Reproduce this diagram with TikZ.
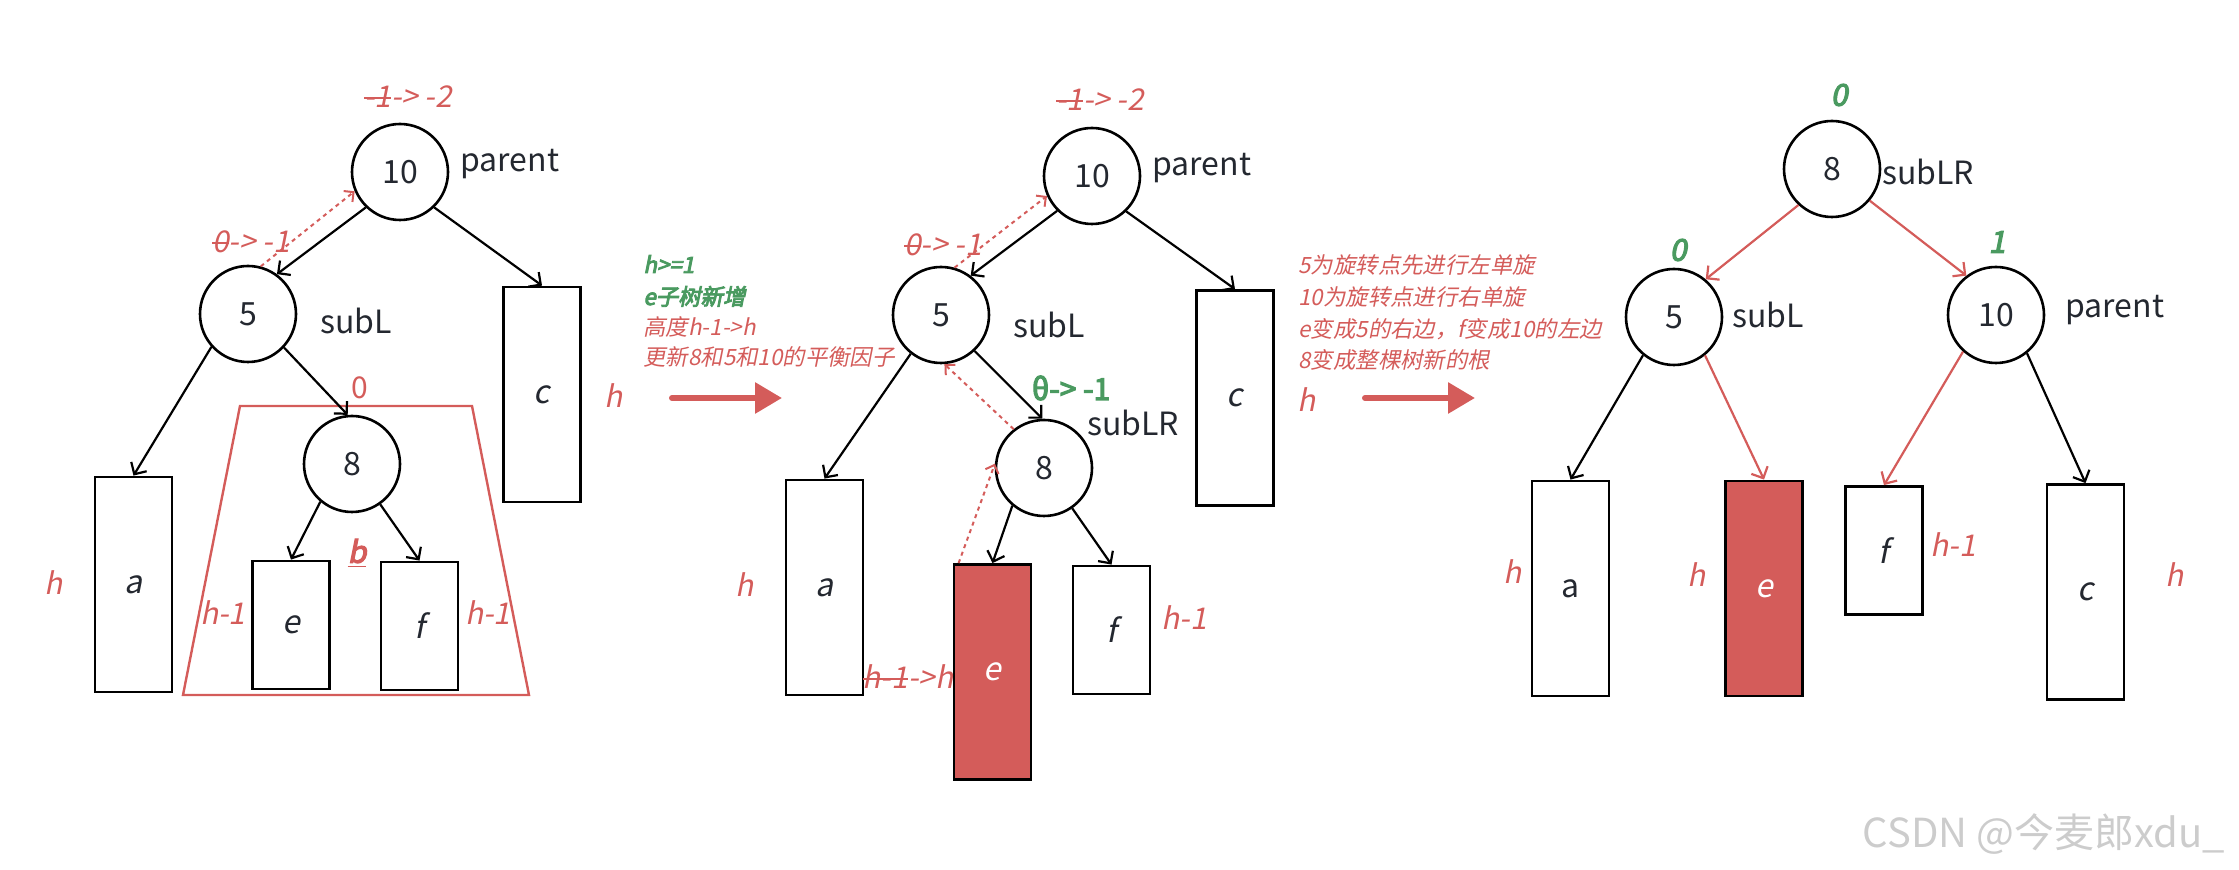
\documentclass[tikz,border=0pt]{standalone}
\usepackage{fontspec}
\setmainfont{Noto Sans CJK SC}[AutoFakeSlant=0.2, AutoFakeBold=4]
\usetikzlibrary{arrows.meta}
\definecolor{avlred}{RGB}{212,92,90}
\definecolor{avlgreen}{RGB}{74,154,96}
\definecolor{ink}{RGB}{36,40,48}
\newcommand\strikeout[1]{\setbox0\hbox{#1}\rlap{\raisebox{0.3em}{\rule{\wd0}{0.06em}}}\box0}

\tikzset{
  treenode/.style={circle, draw=black, line width=1.3pt, minimum size=48pt, inner sep=0pt,
    text=ink, font=\fontsize{16}{19}\selectfont},
  subtree/.style={draw=black, line width=1.4pt, minimum width=38.5pt, inner sep=0pt,
    text=ink, font=\fontsize{16}{19}\selectfont\itshape},
  newtree/.style={subtree, fill=avlred, text=white},
  link/.style={-{Straight Barb[length=4.5pt,width=9pt]}, line width=1.1pt},
  redlink/.style={link, draw=avlred},
  update/.style={-{Straight Barb[length=3.5pt,width=7pt]}, draw=avlred, line width=1pt,
    dash pattern=on 2pt off 2pt},
  bigarrow/.style={-{Triangle[length=13.5pt,width=15pt]}, draw=avlred, line width=3pt, line cap=round},
  role/.style={text=ink, font=\fontsize{16}{19}\selectfont, inner sep=0pt},
  factor/.style={text=avlred, font=\fontsize{15}{18}\selectfont\itshape, inner sep=0pt},
  newfactor/.style={text=avlgreen, font=\fontsize{15}{18}\selectfont\bfseries\itshape, inner sep=0pt},
  hlabel/.style={text=avlred, font=\fontsize{15}{18}\selectfont\itshape, inner sep=0pt},
  note/.style={anchor=base west, text=avlred, font=\fontsize{11.2}{14}\selectfont\itshape, inner sep=0pt},
}

\begin{document}
\begin{tikzpicture}[x=0.5pt, y=-0.5pt]
  \def\hh{107.5pt}
  \def\hs{64pt}
  \useasboundingbox (0,0) rectangle (2239,870);

  % before insertion
  \node[treenode] (L10) at (400,172) {10};
  \node[role, anchor=west] (L10r) at (460,164) {parent};
  \node[factor] (L10f) at (408,97) {\strikeout{-1} -> -2};
  \node[treenode] (L5) at (248,314) {5};
  \node[role, anchor=west] (L5r) at (320,321) {subL};
  \node[factor] (L5f) at (251,242) {\strikeout{0} -> -1};
  \node[treenode] (L8) at (352,464) {8};
  \node[factor, font=\fontsize{15}{18}\selectfont] (L8f) at (360,388) {0};

  \node[subtree, minimum height=\hh] (La) at (133.5,584.5) {a};
  \node[subtree, minimum height=\hh] (Lc) at (542,394.5) {c};
  \node[subtree, minimum height=\hs] (Le) at (291,625) {e};
  \node[subtree, minimum height=\hs] (Lf) at (419.5,626) {f};

  \draw[avlred, line width=1.2pt] (240,406) -- (472,406) -- (529,695) -- (183,695) -- cycle;
  \node[factor, font=\fontsize{15}{18}\selectfont\bfseries\itshape] (Lb) at (357,553) {\underline{b}};

  \node[hlabel] (Lah) at (54,583) {h};
  \node[hlabel] (Lch) at (614,396) {h};
  \node[hlabel] (Leh) at (223,613) {h-1};
  \node[hlabel] (Lfh) at (488,613) {h-1};

  \draw[link] (L10.-134) -- (L5.54);
  \draw[link] (L10.-46) -- (Lc.north);
  \draw[link] (L5.-138) -- (La.north);
  \draw[link] (L5.-43) -- (L8.95);
  \draw[link] (L8.-130) -- (Le.north);
  \draw[link] (L8.-55) -- (Lf.north);
  \draw[update] (L5.75) -- (L10.-157);

  % first step
  \node[note, newfactor, font=\fontsize{11.2}{14}\selectfont\bfseries\itshape] (n1) at (643,273) {h>=1};
  \node[note, newfactor, font=\fontsize{11.2}{14}\selectfont\bfseries\itshape] (n2) at (643,305) {e子树新增};
  \node[note] (n3) at (643,336) {高度h-1->h};
  \node[note] (n4) at (643,366) {更新8和5和10的平衡因子};
  \coordinate (s1) at (672,398);
  \coordinate (e1) at (782,398);
  \draw[bigarrow] (s1) -- (e1);

  % after insertion
  \node[treenode] (M10) at (1092,176) {10};
  \node[role, anchor=west] (M10r) at (1152,168) {parent};
  \node[factor] (M10f) at (1100,100) {\strikeout{-1} -> -2};
  \node[treenode] (M5) at (941,315) {5};
  \node[role, anchor=west] (M5r) at (1013,325) {subL};
  \node[factor] (M5f) at (943,245) {\strikeout{0} -> -1};
  \node[treenode] (M8) at (1044,468) {8};
  \node[role, anchor=west] (M8r) at (1087,423) {subLR};
  \node[newfactor, font=\fontsize{15}{18}\selectfont\bfseries] (M8f) at (1071,388) {θ-> -1};

  \node[subtree, minimum height=\hh] (Ma) at (824.5,587.5) {a};
  \node[subtree, minimum height=\hh] (Mc) at (1235,398) {c};
  \node[newtree, minimum height=\hh] (Me) at (992.5,672) {e};
  \node[subtree, minimum height=\hs] (Mf) at (1111.5,630) {f};

  \node[hlabel] (Mah) at (745,585) {h};
  \node[hlabel] (Meh) at (908,677) {\strikeout{h-1}->h};
  \node[hlabel, anchor=west] (Mfh) at (1161,618) {h-1};

  \draw[link] (M10.-135) -- (M5.53);
  \draw[link] (M10.-46) -- (Mc.north);
  \draw[link] (M5.-128) -- (Ma.north);
  \draw[link] (M5.-47) -- (M8.92);
  \draw[link] (M8.-130) -- (Me.north);
  \draw[link] (M8.-55) -- (Mf.north);
  \draw[update] (M5.74) -- (M10.-156);
  \draw[update] (M8.128) -- (M5.-86);
  \draw[update] ([xshift=3pt]Me.north west) -- (M8.175);

  % second step
  \node[note] (r1) at (1298,274) {5为旋转点先进行左单旋};
  \node[note] (r2) at (1298,306) {10为旋转点进行右单旋};
  \node[note] (r3) at (1298,338) {e变成5的右边，f变成10的左边};
  \node[note] (r4) at (1298,369) {8变成整棵树新的根};
  \node[hlabel] (Mch) at (1307,400) {h};
  \coordinate (s2) at (1365,398);
  \coordinate (e2) at (1475,398);
  \draw[bigarrow] (s2) -- (e2);

  % after double rotation
  \node[treenode] (R8) at (1832,169) {8};
  \node[role, anchor=west] (R8r) at (1882,172) {subLR};
  \node[newfactor] (R8f) at (1839,95) {0};
  \node[treenode] (R5) at (1674,317) {5};
  \node[role, anchor=west] (R5r) at (1732,315) {subL};
  \node[newfactor] (R5f) at (1678,250) {0};
  \node[treenode] (R10) at (1996,315) {10};
  \node[role, anchor=west] (R10r) at (2065,310) {parent};
  \node[newfactor] (R10f) at (1997,242) {1};

  \node[subtree, minimum height=\hh] (Ra) at (1570.5,588.5) {\upshape a};
  \node[newtree, minimum height=\hh] (Re) at (1764,588.5) {e};
  \node[subtree, minimum height=\hs] (Rf) at (1884,550.5) {f};
  \node[subtree, minimum height=\hh] (Rc) at (2085.5,592) {c};

  \node[hlabel] (Rah) at (1513,572) {h};
  \node[hlabel] (Reh) at (1697,575) {h};
  \node[hlabel, anchor=west] (Rfh) at (1930,545) {h-1};
  \node[hlabel] (Rch) at (2175,575) {h};

  \draw[redlink] (R8.-133) -- (R5.50);
  \draw[redlink] (R8.-40) -- (R10.127);
  \draw[link] (R5.-129) -- (Ra.north);
  \draw[redlink] (R5.-51) -- (Re.north);
  \draw[redlink] (R10.-132) -- (Rf.north);
  \draw[link] (R10.-51) -- (Rc.north);

  \node[anchor=east, text=gray!40, font=\fontsize{20}{24}\selectfont] (mark) at (2232,834) {CSDN @今麦郎xdu\_};
\end{tikzpicture}
\end{document}
